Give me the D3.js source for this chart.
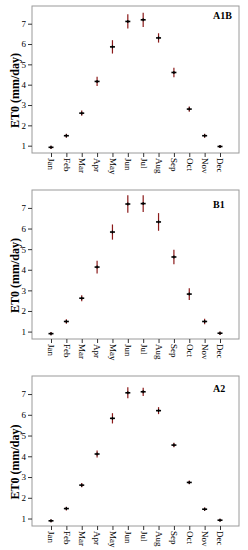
<!DOCTYPE html>
<html><head><meta charset="utf-8">
<script src="https://cdn.jsdelivr.net/npm/d3@7"></script>
<style>body{margin:0;background:#fff}svg{display:block}</style>
</head><body>
<script>
const months = ["Jan","Feb","Mar","Apr","May","Jun","Jul","Aug","Sep","Oct","Nov","Dec"];
const yTicks = [1,2,3,4,5,6,7];
const scenarios = ["A1B","B1","A2"];
const meanA1B = [0.92,1.49,2.60,4.16,5.86,7.11,7.19,6.30,4.60,2.80,1.49,0.96];
const errA1B  = [0.03,0.05,0.08,0.18,0.28,0.30,0.30,0.18,0.18,0.08,0.05,0.03];
const meanB1  = [0.90,1.49,2.62,4.13,5.83,7.19,7.21,6.32,4.62,2.82,1.49,0.92];
const errB1   = [0.03,0.06,0.10,0.26,0.32,0.38,0.36,0.38,0.30,0.24,0.08,0.04];
const meanA2  = [0.89,1.48,2.61,4.11,5.83,7.06,7.11,6.20,4.54,2.74,1.45,0.92];
const errA2   = [0.02,0.04,0.06,0.12,0.20,0.22,0.15,0.12,0.06,0.04,0.03,0.02];

const panels = [
  {name:scenarios[0], mean:meanA1B, err:errA1B, top:6, bottom:153, lab:19},
  {name:scenarios[1], mean:meanB1, err:errB1, top:190, bottom:339, lab:208},
  {name:scenarios[2], mean:meanA2, err:errA2, top:376, bottom:526, lab:392}
];
const W=248, H=550, L=32, R=239;
const svg = d3.select("body").append("svg").attr("width",W).attr("height",H)
  .style("font-family","'Liberation Serif','Times New Roman',serif");

const x = d3.scalePoint().domain(months).range([51,220]);

panels.forEach(p=>{
  const y = d3.scaleLinear().domain([0.64,7.87]).range([p.bottom,p.top]);
  const g = svg.append("g");
  g.append("rect").attr("x",L).attr("y",p.top).attr("width",R-L).attr("height",p.bottom-p.top)
    .attr("fill","none").attr("stroke","#9a9a9a").attr("stroke-width",1);
  const ya = g.append("g").attr("transform",`translate(${L},0)`)
    .call(d3.axisLeft(y).tickValues(yTicks).tickSize(4).tickPadding(2).tickFormat(d3.format("d")));
  ya.select(".domain").remove();
  ya.selectAll("line").attr("stroke","#333");
  ya.selectAll("text").attr("font-size",9).attr("fill","#000").style("font-family","'Liberation Serif',serif");
  const xa = g.append("g").attr("transform",`translate(0,${p.bottom})`)
    .call(d3.axisBottom(x).tickSize(4).tickPadding(2));
  xa.select(".domain").remove();
  xa.selectAll("line").attr("stroke","#333");
  xa.selectAll("text").attr("font-size",9).attr("fill","#000")
    .attr("transform","rotate(90)").attr("text-anchor","start").attr("dy","0.35em")
    .attr("x",5).attr("y",0).style("font-family","'Liberation Serif',serif");
  g.append("text").attr("transform",`translate(15,${(p.top+p.bottom)/2+11}) rotate(-90)`)
    .attr("text-anchor","middle").attr("dy","0.35em").attr("font-size",12).attr("font-weight","bold").text("ET0 (mm/day)");
  g.append("text").attr("x",213).attr("y",p.lab).attr("font-size",10).attr("font-weight","bold").text(p.name);
  const pts = g.selectAll("g.pt").data(months.map((m,i)=>({m,v:p.mean[i],e:p.err[i]}))).join("g");
  pts.append("line").attr("x1",d=>x(d.m)).attr("x2",d=>x(d.m))
    .attr("y1",d=>y(d.v+d.e)-1).attr("y2",d=>y(d.v-d.e)+1).attr("stroke","#8b1a1a").attr("stroke-width",1.2);
  pts.append("line").attr("x1",d=>x(d.m)-2.5).attr("x2",d=>x(d.m)+2.5)
    .attr("y1",d=>y(d.v)).attr("y2",d=>y(d.v)).attr("stroke","#000").attr("stroke-width",1.6);
  pts.append("line").attr("x1",d=>x(d.m)).attr("x2",d=>x(d.m))
    .attr("y1",d=>y(d.v)-1.5).attr("y2",d=>y(d.v)+1.5).attr("stroke","#000").attr("stroke-width",1.2);
});
</script>
</body></html>
